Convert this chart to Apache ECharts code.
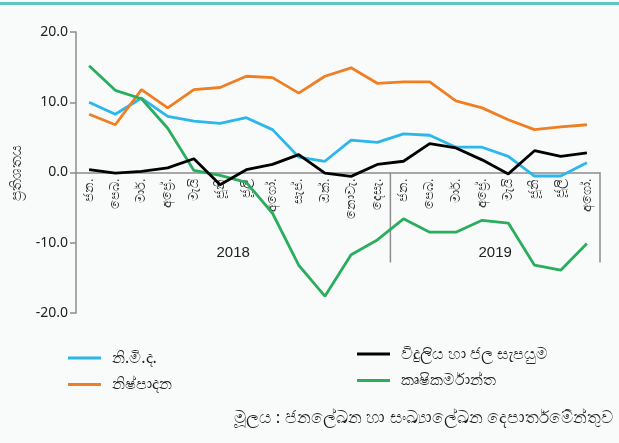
<!DOCTYPE html>
<html><head><meta charset="utf-8">
<script src="https://cdn.jsdelivr.net/npm/echarts@6/dist/echarts.min.js"></script>
<style>html,body{margin:0;padding:0;background:#f9fbfb}#c{width:619px;height:443px}</style>
</head><body><div id="c"></div>
<script>
const months = ['ජන.','පෙබ.','මාර්.','අප්‍රේ.','මැයි','ජූනි','ජූලි','අගෝ.','සැප්.','ඔක්.','නොවැ.','දෙසැ.',
                'ජන.','පෙබ.','මාර්.','අප්‍රේ.','මැයි','ජූනි','ජූලි','අගෝ.'];
const years = ['2018','2019'];
const yearCounts = [12, 8];
const cpi = [10.0,8.3,10.6,8.0,7.3,7.0,7.8,6.1,2.2,1.6,4.6,4.3,5.5,5.3,3.6,3.6,2.3,-0.5,-0.5,1.4];
const industry = [8.3,6.8,11.8,9.2,11.8,12.1,13.7,13.5,11.3,13.7,14.9,12.7,12.9,12.9,10.2,9.2,7.5,6.1,6.5,6.8];
const electricity = [0.4,-0.1,0.15,0.65,1.95,-1.75,0.4,1.15,2.55,-0.1,-0.55,1.15,1.6,4.1,3.5,1.8,-0.2,3.1,2.3,2.8];
const agriculture = [15.2,11.7,10.5,6.3,0.3,-0.4,-1.4,-5.8,-13.2,-17.6,-11.7,-9.6,-6.6,-8.5,-8.5,-6.8,-7.2,-13.2,-13.9,-10.1];
const names = ['නි.මි.ද.','නිෂ්පාදන','විදුලිය හා ජල සැපයුම','කෘෂිකර්මාන්ත'];
const colors = ['#2bb7ea','#ef7f22','#000000','#2aae5e'];
const yTicks = {min:-20, max:20, interval:10};
const yName = 'ප්‍රතිශතය';
const source = 'මූලය : ජනලේඛන හා සංඛ්‍යාලේඛන දෙපාර්තමේන්තුව';

const chart = echarts.init(document.getElementById('c'));
const font = '"Noto Sans", "Liberation Sans", Arial, sans-serif';
const seriesData = [cpi, industry, electricity, agriculture];
const legendText = {fontSize:16, color:'#222', fontFamily:font, padding:[0,0,0,6]};
chart.setOption({
  backgroundColor:'#f9fbfb',
  animation:false,
  textStyle:{fontFamily:font},
  grid:{left:76, right:19, top:32, bottom:130, containLabel:false},
  legend:[
    {data:[names[0],names[1]], orient:'vertical', left:63, top:345, itemWidth:33, itemHeight:3, itemGap:10.5, icon:'rect',
     textStyle:legendText},
    {data:[names[2],names[3]], orient:'vertical', left:352, top:341, itemWidth:33, itemHeight:3, itemGap:10.5, icon:'rect',
     textStyle:legendText}
  ],
  xAxis:{type:'category', data:months, boundaryGap:true, position:'bottom',
    axisLine:{onZero:false, lineStyle:{color:'#8c8c8c', width:1.5}},
    axisTick:{show:false},
    axisLabel:{rotate:90, interval:0, fontSize:13, color:'#333', margin:6}},
  yAxis:{type:'value', min:yTicks.min, max:yTicks.max, interval:yTicks.interval,
    name:yName, nameLocation:'middle', nameGap:52, nameRotate:90,
    nameTextStyle:{fontSize:15, color:'#333'},
    axisLine:{show:true, lineStyle:{color:'#8c8c8c', width:1.5}},
    axisTick:{show:true, length:6, lineStyle:{color:'#8c8c8c', width:1.5}},
    splitLine:{show:false},
    axisLabel:{formatter:v=>v.toFixed(1), fontSize:14, color:'#222', margin:8}},
  series: names.map((n,i)=>({name:n, type:'line', data:seriesData[i], symbol:'none',
    lineStyle:{color:colors[i], width:2.8}, itemStyle:{color:colors[i]}, z: i===2?5:3}))
});

// move the category axis (line + labels) to the zero line
const y0 = chart.convertToPixel({yAxisIndex:0}, 0);
const yBottom = chart.convertToPixel({yAxisIndex:0}, yTicks.min);
chart.setOption({xAxis:{offset: -(yBottom - y0)}});

// year group separators and labels
const px = i => chart.convertToPixel({xAxisIndex:0}, i);
const step = px(1) - px(0);
const graphics = [{type:'rect', shape:{x:0, y:2, width:619, height:3}, style:{fill:'#5cc8c4'}}];
let start = 0;
yearCounts.forEach((cnt, k) => {
  const left = px(start) - step/2;
  const right = px(start + cnt - 1) + step/2;
  graphics.push({type:'line', shape:{x1:right, y1:y0, x2:right, y2:y0+90}, style:{stroke:'#8c8c8c', lineWidth:1.5}});
  graphics.push({type:'text', x:(left+right)/2, y:y0+80, style:{text:years[k], fill:'#222', font:'15px "Liberation Sans", Arial, sans-serif', textAlign:'center', textVerticalAlign:'middle'}});
  start += cnt;
});
graphics.push({type:'text', right:6, top:410, style:{text:source, fill:'#222', fontSize:17, fontFamily:font}});
chart.setOption({graphic:graphics});
</script></body></html>
